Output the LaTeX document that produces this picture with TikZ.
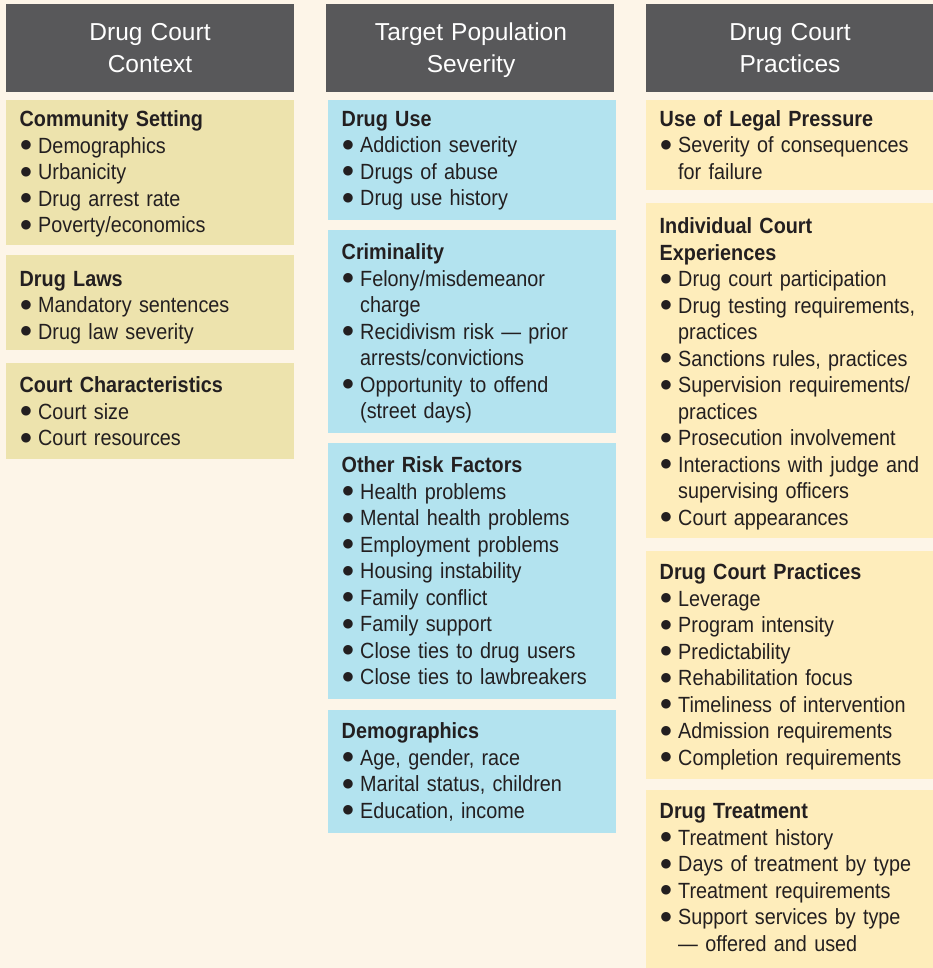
\documentclass[tikz,border=0pt]{standalone}
\usepackage{fontspec}
\setmainfont{Liberation Sans}[FakeStretch=0.9]
\newfontfamily\headfont{Liberation Sans}
\newfontfamily\dotfont{DejaVu Sans}
\definecolor{cream}{HTML}{FDF5E8}
\definecolor{headgray}{HTML}{58585A}
\definecolor{khaki}{HTML}{EDE3AD}
\definecolor{skyblue}{HTML}{B3E3EF}
\definecolor{paleyellow}{HTML}{FEEDBB}
\definecolor{ink}{HTML}{231F20}
\newcommand\bul{\makebox[18.5pt][l]{\hspace{1pt}\raisebox{4.5pt}{\dotfont\fontsize{12.5}{12.5}\selectfont ●}}}
\newcommand\ind{\hspace*{18.5pt}}
\begin{document}
\begin{tikzpicture}[x=1pt, y=-1pt,
	head/.style={anchor=north, inner sep=0pt, text width=288pt, align=center, text=white, yshift=22.4pt, font=\headfont\fontsize{24.5}{32}\selectfont},
	txt/.style={anchor=north west, inner sep=0pt, text width=268pt, align=left, text=ink, yshift=18.55pt, font=\fontsize{22}{26.5}\selectfont}]
	\useasboundingbox (0,0) rectangle (933,968);
	\fill[cream] (0,0) rectangle (933,968);
	\foreach \x/\w in {6/294, 326/614, 646/933}
		\fill[headgray] (\x,4) rectangle (\w,92);
	\foreach \t/\b in {100/245, 255/350, 363/459}
		\fill[khaki] (6,\t) rectangle (294,\b);
	\foreach \t/\b in {100/220, 230/433, 443/699, 710/833}
		\fill[skyblue] (328,\t) rectangle (616,\b);
	\foreach \t/\b in {100/190, 203/538, 551/779, 790/968}
		\fill[paleyellow] (646,\t) rectangle (933,\b);

	\node[head] (hctx) at (150,40.7) {\strut Drug Court\\Context};
	\node[head] (hpop) at (471,40.7) {\strut Target Population\\Severity};
	\node[head] (hprac) at (790,40.7) {\strut Drug Court\\Practices};

	\node[txt] (community) at (19.5,126.5) {\strut\textbf{Community Setting}\\
		\bul Demographics\\ \bul Urbanicity\\ \bul Drug arrest rate\\ \bul Poverty/economics};
	\node[txt] (laws) at (19.5,286) {\strut\textbf{Drug Laws}\\
		\bul Mandatory sentences\\ \bul Drug law severity};
	\node[txt] (courtchar) at (19.5,392.7) {\strut\textbf{Court Characteristics}\\
		\bul Court size\\ \bul Court resources};

	\node[txt] (druguse) at (341.5,126) {\strut\textbf{Drug Use}\\
		\bul Addiction severity\\ \bul Drugs of abuse\\ \bul Drug use history};
	\node[txt] (crime) at (341.5,259.3) {\strut\textbf{Criminality}\\
		\bul Felony/misdemeanor\\ \ind charge\\
		\bul Recidivism risk — prior\\ \ind arrests/convictions\\
		\bul Opportunity to offend\\ \ind (street days)};
	\node[txt] (risk) at (341.5,472.7) {\strut\textbf{Other Risk Factors}\\
		\bul Health problems\\ \bul Mental health problems\\ \bul Employment problems\\
		\bul Housing instability\\ \bul Family conflict\\ \bul Family support\\
		\bul Close ties to drug users\\ \bul Close ties to lawbreakers};
	\node[txt] (demo) at (341.5,738.3) {\strut\textbf{Demographics}\\
		\bul Age, gender, race\\ \bul Marital status, children\\ \bul Education, income};

	\node[txt, text width=270pt] (legal) at (659.5,126) {\strut\textbf{Use of Legal Pressure}\\
		\bul Severity of consequences\\ \ind for failure};
	\node[txt, text width=270pt] (indiv) at (659.5,233.3) {\strut\textbf{Individual Court}\\ \textbf{Experiences}\\
		\bul Drug court participation\\
		\bul Drug testing requirements,\\ \ind practices\\
		\bul Sanctions rules, practices\\
		\bul Supervision requirements/\\ \ind practices\\
		\bul Prosecution involvement\\
		\bul Interactions with judge and\\ \ind supervising officers\\
		\bul Court appearances};
	\node[txt, text width=270pt] (practices) at (659.5,579.3) {\strut\textbf{Drug Court Practices}\\
		\bul Leverage\\ \bul Program intensity\\ \bul Predictability\\ \bul Rehabilitation focus\\
		\bul Timeliness of intervention\\ \bul Admission requirements\\ \bul Completion requirements};
	\node[txt, text width=270pt] (treatment) at (659.5,818.3) {\strut\textbf{Drug Treatment}\\
		\bul Treatment history\\ \bul Days of treatment by type\\ \bul Treatment requirements\\
		\bul Support services by type\\ \ind — offered and used};
\end{tikzpicture}
\end{document}
